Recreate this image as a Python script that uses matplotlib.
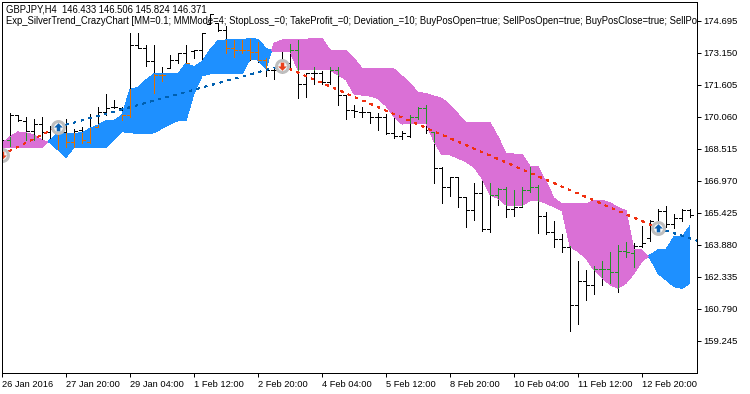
import matplotlib
matplotlib.use('Agg')
import matplotlib.pyplot as plt
from matplotlib.path import Path

plt.rcParams['font.family'] = ['Liberation Sans', 'DejaVu Sans']

# H4 bars, oldest first
highs = [168.95, 170.24, 170.16, 170.04, 169.95, 170.04, 169.63, 169.75, 169.95, 169.47, 169.56, 170.21, 170.56, 171.17, 170.88,
         170.56, 174.13, 174.13, 173.54, 173.54, 172.49, 173.05, 173.17, 173.54, 173.30, 174.13, 175.03, 174.62, 174.45, 173.81,
         173.81, 173.81, 173.70, 172.89, 172.41, 173.21, 173.59, 173.78, 172.20, 172.46, 172.30, 172.46, 172.46, 171.12, 170.64,
         170.53, 170.32, 170.27, 170.21, 170.08, 169.40, 170.16, 170.53, 170.62, 169.35, 167.66, 167.18, 167.18, 166.21, 166.86,
         167.10, 166.89, 166.62, 166.70, 166.54, 166.70, 167.63, 166.78, 165.47, 165.06, 164.41, 163.83, 163.12, 162.67, 162.87,
         163.12, 163.56, 163.88, 164.04, 163.96, 164.80, 165.09, 165.60, 165.76, 165.38, 165.60, 165.60]
lows = [167.82, 168.66, 169.88, 168.95, 168.95, 168.95, 168.95, 168.50, 168.63, 168.60, 168.79, 168.79, 169.56, 170.16, 170.48,
        169.92, 170.08, 173.38, 172.52, 171.24, 171.80, 172.41, 172.65, 172.65, 172.89, 172.73, 174.55, 174.23, 173.13, 172.97,
        173.17, 172.81, 172.73, 172.04, 171.88, 172.17, 172.33, 170.99, 171.04, 171.65, 171.65, 171.65, 170.64, 169.98, 170.08,
        170.08, 169.79, 169.43, 169.24, 169.03, 168.98, 169.11, 169.95, 169.27, 166.89, 165.92, 166.25, 165.73, 164.77, 165.09,
        164.57, 164.52, 165.80, 165.25, 165.28, 165.73, 166.46, 164.48, 164.41, 163.80, 163.56, 159.74, 160.07, 161.22, 161.51,
        161.95, 162.06, 161.63, 163.29, 162.83, 163.80, 164.09, 164.61, 164.77, 164.69, 165.06, 165.25]
opens = [168.23, 168.95, 170.16, 169.88, 169.40, 169.72, 169.35, 169.35, 169.35, 168.87, 169.43, 168.87, 169.59, 170.32, 170.56,
         170.48, 170.16, 173.54, 173.38, 172.78, 172.09, 172.41, 172.81, 173.13, 173.27, 173.30, 174.55, 174.62, 174.26, 173.38,
         173.30, 173.30, 173.21, 172.81, 172.33, 172.33, 172.65, 173.30, 171.64, 172.17, 172.17, 171.77, 172.33, 171.12, 170.40,
         170.32, 170.32, 170.04, 170.04, 169.30, 169.14, 169.14, 170.08, 170.48, 169.35, 167.58, 166.66, 167.18, 166.21, 165.57,
         166.37, 164.64, 166.28, 166.57, 165.60, 165.73, 166.54, 166.66, 165.28, 164.52, 164.15, 163.77, 160.98, 162.16, 161.95,
         162.71, 162.71, 162.59, 163.59, 163.51, 163.83, 164.20, 164.73, 165.54, 164.90, 165.17, 165.57]
closes = [168.95, 170.16, 169.92, 169.40, 169.72, 169.35, 169.59, 169.35, 168.87, 169.40, 168.95, 169.59, 170.32, 170.48, 170.56,
          170.16, 173.54, 173.38, 172.78, 172.09, 172.09, 172.81, 173.13, 172.65, 173.30, 174.13, 175.03, 174.26, 173.38, 173.30,
          173.30, 173.21, 172.81, 172.33, 172.33, 172.65, 173.30, 171.64, 172.17, 172.17, 171.77, 172.33, 171.12, 170.40, 170.37,
          170.32, 170.04, 170.04, 169.30, 169.14, 169.30, 170.08, 170.48, 169.43, 167.58, 166.66, 167.15, 166.21, 165.57, 166.37,
          164.64, 166.29, 166.57, 165.60, 165.73, 166.54, 166.66, 165.28, 164.52, 164.15, 163.77, 160.98, 162.16, 161.95, 162.71,
          162.71, 162.59, 163.59, 163.56, 163.83, 163.99, 165.06, 165.54, 164.90, 165.17, 165.57, 165.31]

# cloud: a above b is blue, a below b is pink
cloud_a = [168.55, 168.60, 168.60, 168.60, 168.60, 168.60, 168.95, 169.30, 169.27, 169.27, 169.30, 169.51, 169.67, 169.88, 169.88,
           170.16, 171.40, 171.49, 171.85, 172.14, 172.14, 172.14, 172.14, 172.65, 172.49, 172.73, 173.30, 173.75, 173.78, 173.78,
           173.78, 173.86, 173.81, 173.38, 173.21, 173.21, 173.21, 172.33, 172.33, 172.33, 172.33, 172.33, 172.09, 171.85, 171.17,
           171.12, 171.07, 170.96, 170.59, 170.08, 169.72, 169.75, 169.75, 169.75, 168.87, 168.23, 168.23, 168.07, 167.90, 167.63,
           167.10, 166.29, 166.13, 165.81, 165.78, 165.78, 166.02, 166.02, 165.89, 165.72, 165.54, 163.80, 163.56, 163.24, 162.67,
           162.32, 161.95, 161.79, 162.03, 162.51, 163.08, 163.40, 163.64, 163.67, 164.28, 164.28, 164.80]
cloud_b = [168.79, 169.11, 169.34, 169.30, 169.19, 168.95, 168.82, 168.47, 168.10, 168.60, 168.60, 168.60, 168.60, 168.60, 168.98,
           169.35, 169.30, 169.27, 169.24, 169.30, 169.51, 169.72, 169.88, 169.88, 171.20, 172.04, 172.14, 172.14, 172.14, 172.14,
           172.14, 172.85, 172.81, 172.41, 173.62, 173.78, 173.78, 173.78, 173.81, 173.86, 173.86, 173.30, 173.26, 173.26, 172.89,
           172.41, 172.38, 172.38, 172.38, 172.38, 172.04, 171.69, 171.24, 171.20, 171.07, 170.96, 170.64, 170.21, 169.79, 169.79,
           169.79, 169.79, 169.11, 168.31, 168.27, 168.27, 167.69, 167.66, 166.94, 166.15, 165.86, 165.86, 165.86, 165.86, 166.05,
           166.05, 165.92, 165.70, 165.54, 163.64, 163.64, 163.24, 162.51, 162.19, 161.87, 161.79, 162.03]

# deals and the dashed lines between them
deal_bars = [0, 7, 35, 82, 86.875]
deal_prices = [168.23, 169.58, 172.54, 164.70, 164.09]
deal_up = [False, True, False, True]

price_ticks = [174.695, 173.150, 171.605, 170.060, 168.515, 166.970, 165.425, 163.880, 162.335, 160.790, 159.245]
time_ticks = [0, 8, 16, 24, 32, 40, 48, 56, 64, 72, 80]
time_labels = ['26 Jan 2016', '27 Jan 20:00', '29 Jan 04:00', '1 Feb 12:00', '2 Feb 20:00', '4 Feb 04:00',
               '5 Feb 12:00', '8 Feb 20:00', '10 Feb 04:00', '11 Feb 12:00', '12 Feb 20:00']

header1 = 'GBPJPY,H4  146.433 146.506 145.824 146.371'
header2 = ('Exp_SilverTrend_CrazyChart [MM=0.1; MMMode=4; StopLoss_=0; TakeProfit_=0; Deviation_=10; '
           'BuyPosOpen=true; SellPosOpen=true; BuyPosClose=true; SellPosClose=true]')

BLUE = '#1e90ff'
PINK = '#da70d6'
ON_BLUE = '#e16f00'
ON_PINK = '#258f29'
LW = 0.72  # one pixel at 100 dpi

fig = plt.figure(figsize=(7.5, 3.94), dpi=100)
ax = fig.add_axes([2 / 750, (394 - 373) / 394, 695 / 750, 371 / 394])
ax.set_xlim(0, 86.875)
ax.set_ylim(157.700, 175.612)

bars = list(range(len(highs)))
tick_w = 0.375

# ohlc bars, ticks left for open and right for close
ax.vlines(bars, lows, highs, colors='black', lw=LW, zorder=1, antialiased=False)
ax.hlines(opens, [b - tick_w for b in bars], bars, colors='black', lw=LW, zorder=1, antialiased=False)
ax.hlines(closes, bars, [b + tick_w for b in bars], colors='black', lw=LW, zorder=1, antialiased=False)

above = [a > b for a, b in zip(cloud_a, cloud_b)]
below = [a <= b for a, b in zip(cloud_a, cloud_b)]
ax.fill_between(bars, cloud_a, cloud_b, where=above, interpolate=True, color=BLUE, lw=0, zorder=2, antialiased=False)
ax.fill_between(bars, cloud_a, cloud_b, where=below, interpolate=True, color=PINK, lw=0, zorder=2, antialiased=False)

# inside the cloud the bars take the inverse colour of the fill
for i in bars:
    top = max(cloud_a[i], cloud_b[i])
    bottom = min(cloud_a[i], cloud_b[i])
    color = ON_BLUE if cloud_a[i] > cloud_b[i] else ON_PINK
    seg_top = min(highs[i], top)
    seg_bottom = max(lows[i], bottom)
    if seg_top > seg_bottom:
        ax.vlines(i, seg_bottom, seg_top, colors=color, lw=LW, zorder=3, antialiased=False)
    if bottom <= opens[i] <= top:
        ax.hlines(opens[i], i - tick_w, i, colors=color, lw=LW, zorder=3, antialiased=False)
    if bottom <= closes[i] <= top:
        ax.hlines(closes[i], i, i + tick_w, colors=color, lw=LW, zorder=3, antialiased=False)

for k in range(len(deal_up)):
    color = '#0060b0' if deal_up[k] else '#f03010'
    ax.plot(deal_bars[k:k + 2], deal_prices[k:k + 2], color=color, lw=0.5, dashes=(4, 7.5), zorder=4, antialiased=False)

arrow_up = Path([(0, 1), (1, 0), (0.4, 0), (0.4, -0.9), (-0.4, -0.9), (-0.4, 0), (-1, 0), (0, 1)], closed=True)
arrow_down = Path([(0, -1), (1, 0), (0.4, 0), (0.4, 0.9), (-0.4, 0.9), (-0.4, 0), (-1, 0), (0, -1)], closed=True)
for k in range(len(deal_up)):
    ax.plot(deal_bars[k], deal_prices[k], marker='o', ms=8.6, mfc='#f4f4f4', mec='#bebebe', mew=2.16, zorder=5)
    if deal_up[k]:
        ax.plot(deal_bars[k], deal_prices[k], marker=arrow_up, ms=6.2, color='#0a62b4', mew=0, zorder=6)
    else:
        ax.plot(deal_bars[k], deal_prices[k], marker=arrow_down, ms=6.2, color='#e8401c', mew=0, zorder=6)

for side in ax.spines.values():
    side.set_linewidth(LW)
    side.set_zorder(10)

ax.yaxis.tick_right()
ax.set_yticks(price_ticks)
ax.set_yticklabels(['%.3f' % p for p in price_ticks])
ax.set_xticks(time_ticks)
ax.set_xticklabels(time_labels, ha='left')
ax.tick_params(axis='y', length=3, width=LW, pad=1.5, labelsize=6.8)
ax.tick_params(axis='x', length=3, width=LW, pad=2, labelsize=6.7)

ax.text(4.5 / 695, (373 - 9.5) / 371, header1, transform=ax.transAxes, fontsize=6.85, va='center', ha='left', clip_on=True, zorder=11)
ax.text(4.5 / 695, (373 - 21) / 371, header2, transform=ax.transAxes, fontsize=6.85, va='center', ha='left', clip_on=True, zorder=11)

fig.savefig('out.png', dpi=100)
